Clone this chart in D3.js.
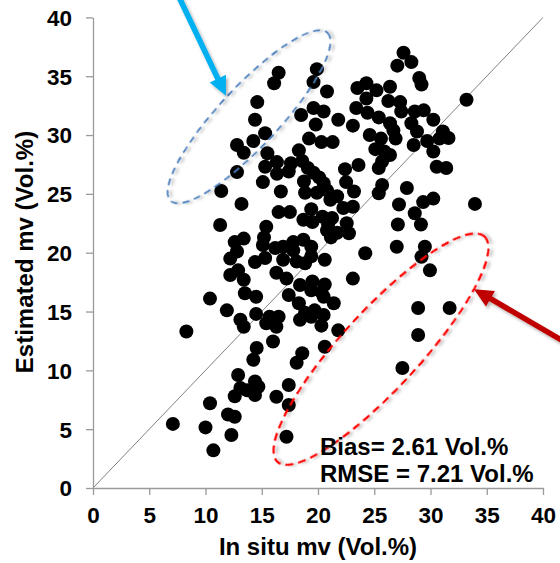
<!DOCTYPE html>
<html>
<head>
<meta charset="utf-8">
<script src="https://cdn.jsdelivr.net/npm/d3@7"></script>
<style>
  html, body { margin: 0; padding: 0; background: #fff; }
  svg { display: block; font-family: "Liberation Sans", Arial, sans-serif; }
</style>
</head>
<body>
<svg id="chart" width="560" height="563"></svg>
<script>
// In situ vs. estimated soil moisture (Vol.%)
const observations = [
  [16.5,35.3],[16.1,34.4],[19.9,35.6],[19.6,34.5],[20.8,33.7],[14.6,32.8],[14.4,31.3],
  [27.6,37.0],[28.3,36.2],[27.05,35.9],[29.0,34.85],[29.2,34.3],[23.5,34.0],[24.3,34.4],
  [25.2,33.8],[26.4,34.1],[24.3,33.1],[33.2,33.0],[26.25,32.9],[27.3,32.8],[23.4,32.3],
  [24.4,31.9],[19.6,32.3],[20.5,32.0],[18.5,31.7],[21.8,31.3],[23.1,30.8],[25.4,31.5],
  [26.4,31.0],[27.4,32.0],[28.6,32.0],[29.4,32.1],[30.25,31.3],[28.3,31.0],[19.8,30.9],
  [28.8,30.3],[31.1,30.3],[31.6,29.75],[30.8,29.7],[29.7,29.5],[28.5,29.15],[30.25,28.6],
  [24.6,30.0],[25.6,29.7],[26.9,29.7],[25.1,28.8],[25.9,28.6],[26.4,28.3],[25.7,27.75],
  [25.4,27.2],[23.6,27.45],[22.4,27.1],[30.55,27.3],[31.4,27.2],[26.7,30.4],[15.3,30.15],
  [14.25,29.5],[12.8,29.15],[13.4,28.5],[15.5,28.45],[19.2,29.7],[20.3,29.4],[21.3,29.4],
  [18.3,28.7],[16.35,27.7],[15.3,27.3],[17.6,27.6],[18.6,27.8],[19.1,27.2],[17.4,26.9],
  [16.35,26.7],[12.8,26.85],[19.6,26.8],[20.1,26.4],[15.1,26.0],[16.7,25.2],[11.4,25.25],
  [13.2,24.15],[18.75,26.05],[20.5,25.9],[22.5,26.0],[18.85,25.1],[19.9,25.1],[20.8,25.3],
  [21.1,24.5],[21.7,24.8],[23.2,25.2],[25.7,25.75],[25.4,25.05],[27.9,25.5],[27.2,24.1],
  [29.35,24.3],[30.25,24.6],[33.95,24.15],[28.6,23.35],[29.15,22.4],[27.1,22.4],[16.5,23.45],
  [17.5,23.45],[19.4,23.7],[18.7,22.8],[19.5,22.6],[20.9,22.4],[21.25,22.95],[22.25,23.8],
  [22.55,22.5],[23.1,23.9],[11.3,22.35],[20.4,23.05],[15.4,22.2],[15.2,21.3],[13.4,21.2],
  [12.6,20.9],[12.8,20.1],[12.2,19.5],[15.1,20.65],[16.2,20.4],[16.9,20.5],[17.8,20.9],
  [17.8,20.2],[18.7,21.1],[19.4,20.5],[19.4,19.7],[20.6,19.4],[14.4,19.2],[15.3,19.55],
  [16.9,19.4],[18.1,19.25],[18.85,19.1],[20.8,21.9],[21.15,21.3],[21.7,21.7],[22.75,21.65],
  [24.2,19.95],[27.0,20.5],[29.5,20.5],[29.2,19.65],[29.95,18.5],[16.3,18.3],[17.2,17.8],
  [12.2,18.1],[12.9,18.5],[13.4,17.7],[23.1,17.8],[19.5,17.55],[18.4,17.25],[20.6,17.3],
  [20.3,16.65],[19.4,16.8],[13.5,16.55],[14.5,16.25],[10.4,16.1],[17.4,16.4],[18.3,15.7],
  [20.5,16.25],[21.4,15.7],[19.7,15.1],[18.85,14.9],[19.4,14.55],[20.5,14.7],[11.9,15.1],
  [13.1,14.3],[13.4,13.7],[14.5,14.8],[15.4,14.0],[15.7,14.55],[16.5,14.55],[18.4,14.3],
  [20.3,13.8],[16.3,13.7],[21.8,13.4],[28.9,15.3],[31.7,15.3],[28.9,13.0],[20.6,12.0],
  [18.6,11.45],[14.55,11.9],[16.0,12.45],[8.3,13.3],[14.25,10.9],[18.1,10.65],[27.5,10.2],
  [12.9,9.6],[14.4,9.05],[14.7,8.6],[13.1,8.5],[13.7,8.3],[12.6,7.8],[14.4,7.9],
  [17.4,8.75],[16.3,7.75],[17.4,7.05],[10.4,7.2],[12.0,6.25],[12.6,6.05],[7.1,5.45],
  [10.0,5.15],[12.3,4.5],[10.7,3.2],[17.2,4.35]
];

const xTicks = [0, 5, 10, 15, 20, 25, 30, 35, 40];
const yTicks = [0, 5, 10, 15, 20, 25, 30, 35, 40];
const oneToOne = [0, 40];

const statNames = ["Bias=", "RMSE ="];
const statValues = [2.61, 7.21];
const unit = "Vol.%";

const xTitle = "In situ mv (Vol.%)";
const yTitle = "Estimated mv (Vol.%)";

// Highlighted groups: centre in data units
const groupCentres = [[13.87, 31.55], [25.6, 11.8]];
// Pointer arrows: tail and head in data units
const arrowTails = [[7.56, 41.9], [41.96, 12.4]];
const arrowHeads = [[11.82, 33.33], [33.87, 16.9]];

// ---- layout ----
const svg = d3.select("#chart");
const x = d3.scaleLinear().domain([0, 40]).range([93, 543]);
const y = d3.scaleLinear().domain([0, 40]).range([488, 17.4]);
const axisColor = "#9a9a9a";
const tickFont = "22.5px";

const defs = svg.append("defs");
const sh = defs.append("filter").attr("id", "shadow")
  .attr("x", "-20%").attr("y", "-20%").attr("width", "140%").attr("height", "140%");
sh.append("feDropShadow").attr("dx", 2).attr("dy", 2.5).attr("stdDeviation", 1.8)
  .attr("flood-color", "#000").attr("flood-opacity", 0.3);

// 1:1 line
svg.append("line")
  .attr("x1", x(oneToOne[0])).attr("y1", y(oneToOne[0]))
  .attr("x2", x(oneToOne[1])).attr("y2", y(oneToOne[1]))
  .attr("stroke", "#808080").attr("stroke-width", 1);

// axes
const xAxis = svg.append("g").attr("transform", `translate(0,${y(0)})`)
  .call(d3.axisBottom(x).tickValues(xTicks).tickSize(7).tickSizeOuter(0).tickFormat(d3.format("d")));
const yAxis = svg.append("g").attr("transform", `translate(${x(0)},0)`)
  .call(d3.axisLeft(y).tickValues(yTicks).tickSize(7).tickSizeOuter(0).tickFormat(d3.format("d")));

[xAxis, yAxis].forEach(g => {
  g.select(".domain").attr("stroke", axisColor).attr("stroke-width", 1.3);
  g.selectAll(".tick line").attr("stroke", axisColor).attr("stroke-width", 1.3);
  g.selectAll(".tick text")
    .attr("fill", "#000").style("font-size", tickFont).style("font-weight", "bold")
    .style("font-family", "'Liberation Sans', Arial, sans-serif");
});
xAxis.selectAll(".tick text").attr("y", 35).attr("dy", 0);
yAxis.selectAll(".tick text").attr("x", -21).attr("dy", "0.35em");

// axis titles
svg.append("text")
  .attr("x", (x(0) + x(40)) / 2).attr("y", 555)
  .attr("text-anchor", "middle")
  .style("font-size", "24px").style("font-weight", "bold")
  .text(xTitle);

svg.append("text")
  .attr("transform", `translate(33,252) rotate(-90)`)
  .attr("text-anchor", "middle")
  .style("font-size", "24px").style("font-weight", "bold")
  .text(yTitle);

// points
svg.append("g").selectAll("circle")
  .data(observations)
  .join("circle")
  .attr("cx", d => x(d[0]))
  .attr("cy", d => y(d[1]))
  .attr("r", 7)
  .attr("fill", "#000");

// highlighted groups (dashed ellipses)
const ellipseStyle = [
  { rx: 115, ry: 30, angle: -47, color: "#4f81bd", dash: "7,5", width: 1.8 },
  { rx: 153, ry: 39, angle: -47.4, color: "#ff0000", dash: "8,5", width: 2.2 }
];
svg.append("g").selectAll("ellipse")
  .data(groupCentres)
  .join("ellipse")
  .attr("transform", (d, i) => `translate(${x(d[0])},${y(d[1])}) rotate(${ellipseStyle[i].angle})`)
  .attr("rx", (d, i) => ellipseStyle[i].rx)
  .attr("ry", (d, i) => ellipseStyle[i].ry)
  .attr("fill", "none")
  .attr("stroke", (d, i) => ellipseStyle[i].color)
  .attr("stroke-width", (d, i) => ellipseStyle[i].width)
  .attr("stroke-dasharray", (d, i) => ellipseStyle[i].dash)
  .attr("filter", "url(#shadow)");

// arrows
const arrowColors = ["#00b0f0", "#c00000"];
arrowTails.forEach((t, i) => {
  const x1 = x(t[0]), y1 = y(t[1]);
  const x2 = x(arrowHeads[i][0]), y2 = y(arrowHeads[i][1]);
  const ang = Math.atan2(y2 - y1, x2 - x1);
  const headLen = 19, headHalf = 9;
  const bx = x2 - headLen * Math.cos(ang), by = y2 - headLen * Math.sin(ang);
  const px = -Math.sin(ang), py = Math.cos(ang);
  const g = svg.append("g").attr("filter", "url(#shadow)");
  g.append("line")
    .attr("x1", x1).attr("y1", y1).attr("x2", bx + 2 * Math.cos(ang)).attr("y2", by + 2 * Math.sin(ang))
    .attr("stroke", arrowColors[i]).attr("stroke-width", 5.5);
  g.append("path")
    .attr("d", `M${x2},${y2} L${bx + headHalf * px},${by + headHalf * py} L${bx - headHalf * px},${by - headHalf * py} Z`)
    .attr("fill", arrowColors[i]);
});

// statistics
svg.append("g").selectAll("text")
  .data(statValues)
  .join("text")
  .attr("x", 320)
  .attr("y", (d, i) => 455 + i * 27)
  .style("font-size", "24px").style("font-weight", "bold")
  .text((d, i) => `${statNames[i]} ${d.toFixed(2)} ${unit}`);
</script>
</body>
</html>
